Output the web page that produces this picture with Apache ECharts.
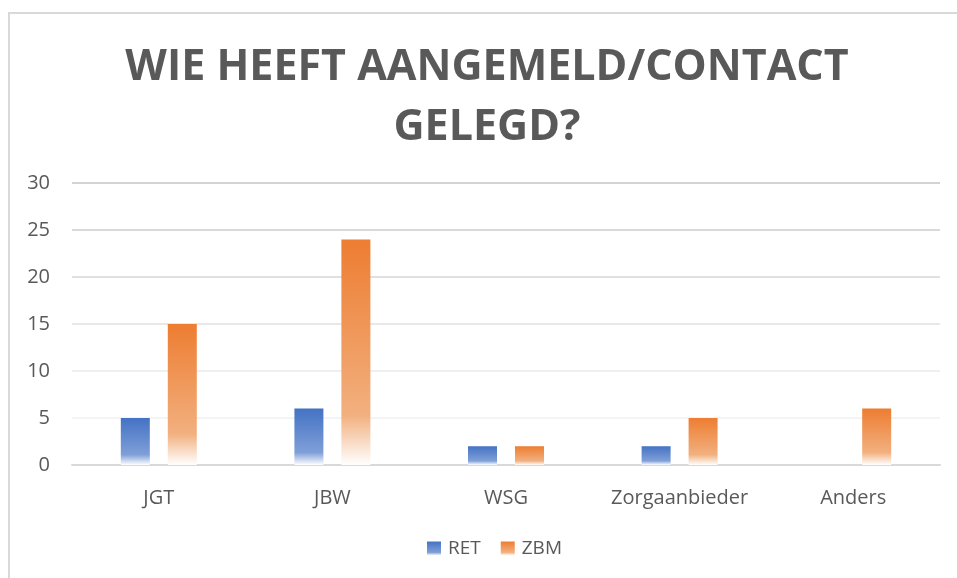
<!DOCTYPE html>
<html>
<head>
    <meta charset="utf-8" />
    <title></title>
    <script type="text/javascript" src="https://cdn.jsdelivr.net/npm/echarts@6/dist/echarts.min.js"></script>
    <style>
        html, body { margin: 0; padding: 0; background: #fff; }
        #frame {
            position: absolute; left: 8px; top: 12px; width: 960px; height: 580px;
            border-left: 2px solid #d9d9d9; border-top: 2px solid #d9d9d9;
        }
        #con { position: absolute; left: 0; top: 0; width: 957px; height: 578px; }
    </style>
</head>
<body>
    <div id="frame"></div>
    <div id="con"></div>
    <script type="text/javascript">
        var categories = ['JGT', 'JBW', 'WSG', 'Zorgaanbieder', 'Anders'];
        var retData = [5, 6, 2, 2, 0];
        var zbmData = [15, 24, 2, 5, 6];

        function fade(c, mid) {
            // excel-achtige verloop: boven vol, onder wit
            return new echarts.graphic.LinearGradient(0, 0, 0, 1, [
                { offset: 0, color: c },
                { offset: 0.78, color: mid },
                { offset: 1, color: '#ffffff' }
            ]);
        }

        var myChart = echarts.init(document.getElementById('con'));
        var option = {
            backgroundColor: 'transparent',
            title: {
                text: 'WIE HEEFT AANGEMELD/CONTACT\nGELEGD?',
                left: 482,
                textAlign: 'center',
                top: 33,
                textStyle: {
                    fontFamily: 'Open Sans',
                    fontWeight: 'bold',
                    fontSize: 43,
                    lineHeight: 60,
                    color: '#595959'
                }
            },
            legend: {
                bottom: 15,
                left: 422,
                itemWidth: 14,
                itemHeight: 14,
                itemGap: 20,
                icon: 'rect',
                textStyle: { fontFamily: 'Open Sans', fontSize: 19, color: '#595959', padding: [0, 0, 0, 2] },
                data: ['RET', 'ZBM']
            },
            grid: { left: 72, right: 17, top: 183, bottom: 113, containLabel: false },
            xAxis: {
                type: 'category',
                data: categories,
                axisLine: { lineStyle: { color: '#d9d9d9', width: 2 } },
                axisTick: { show: false },
                axisLabel: { interval: 0, fontFamily: 'Open Sans', fontSize: 20, color: '#595959', margin: 23 }
            },
            yAxis: {
                type: 'value',
                min: 0,
                max: 30,
                interval: 5,
                axisLine: { show: false },
                axisTick: { show: false },
                axisLabel: { fontFamily: 'Open Sans', fontSize: 20, color: '#595959', margin: 22 },
                splitLine: {
                    lineStyle: {
                        color: ['#d9d9d9', '#f4f4f4', '#efefef', '#e8e8e8', '#e0e0e0', '#d9d9d9', '#d3d3d3'],
                        width: 2
                    }
                }
            },
            series: [{
                name: 'RET',
                type: 'bar',
                data: retData,
                barWidth: 29,
                barGap: '62%',
                itemStyle: { color: fade('#4472c4', '#7f9fd8') }
            }, {
                name: 'ZBM',
                type: 'bar',
                data: zbmData,
                barWidth: 29,
                itemStyle: { color: fade('#ed7d31', '#f2b07f') }
            }]
        };
        option && myChart.setOption(option);
    </script>
</body>
</html>
